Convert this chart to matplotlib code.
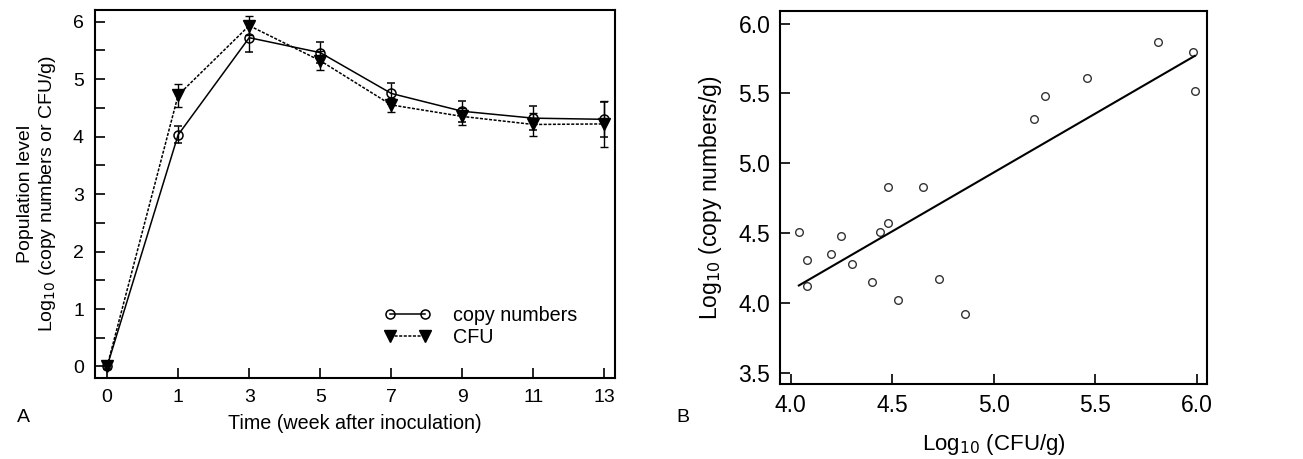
import numpy as np
import matplotlib.pyplot as plt

plt.rcParams["font.family"] = ["Liberation Sans", "DejaVu Sans"]

# panel A: population over time
weeks = ["0", "1", "3", "5", "7", "9", "11", "13"]
copy_mean = [0.0, 4.03, 5.72, 5.46, 4.75, 4.44, 4.32, 4.30]
copy_err = [0.05, 0.15, 0.25, 0.18, 0.19, 0.18, 0.21, 0.30]
cfu_mean = [0.0, 4.72, 5.93, 5.32, 4.55, 4.35, 4.21, 4.22]
cfu_err = [0.05, 0.20, 0.17, 0.17, 0.12, 0.15, 0.20, 0.40]

# panel B: correlation
cfu_log = [4.04, 4.08, 4.08, 4.20, 4.25, 4.30, 4.40, 4.44, 4.48, 4.48,
           4.53, 4.65, 4.73, 4.86, 5.20, 5.25, 5.46, 5.81, 5.98, 5.99]
copy_log = [4.51, 4.31, 4.12, 4.35, 4.48, 4.28, 4.15, 4.51, 4.57, 4.83,
            4.02, 4.83, 4.17, 3.92, 5.32, 5.48, 5.61, 5.87, 5.80, 5.52]

fig = plt.figure(figsize=(13.03, 4.59), dpi=100)

ax1 = fig.add_axes([0.0729, 0.1765, 0.3992, 0.8015])
xpos = np.arange(len(weeks))
ax1.errorbar(xpos, copy_mean, yerr=copy_err, color="black", lw=1.1,
             marker="o", ms=6.5, mfc="none", mec="black", mew=1.1,
             capsize=3, elinewidth=1, label="copy numbers", zorder=3)
ax1.errorbar(xpos, cfu_mean, yerr=cfu_err, color="black", lw=1.1, ls=(0, (2, 1)),
             marker="v", ms=9, mfc="black", mec="black",
             capsize=3, elinewidth=1, label="CFU", zorder=2)
ax1.set_xlim(-0.17, 7.15)
ax1.set_ylim(-0.2, 6.2)
ax1.set_xticks(xpos)
ax1.set_xticklabels(weeks)
ax1.set_yticks(range(7))
ax1.set_yticks(np.arange(0.5, 6, 1), minor=True)
ax1.tick_params(direction="in", length=7, width=1.2, labelsize=14, pad=8)
ax1.tick_params(which="minor", direction="in", length=7, width=1.2)
for s in ax1.spines.values():
    s.set_linewidth(1.5)
ax1.set_xlabel("Time (week after inoculation)", fontsize=14.2, labelpad=6)
ax1.set_ylabel("Population level\nLog$_{10}$ (copy numbers or CFU/g)", fontsize=14,
               labelpad=11, linespacing=1.15)
h, l = ax1.get_legend_handles_labels()
h = [x[0] for x in h]
ax1.legend(h, l, loc="center left", bbox_to_anchor=(0.555, 0.141), frameon=False,
           numpoints=2, handlelength=2.4, fontsize=14.2, handletextpad=1.1,
           labelspacing=0.15, borderaxespad=0, borderpad=0)
fig.text(0.013, 0.08, "A", fontsize=14)

ax2 = fig.add_axes([0.5986, 0.1634, 0.3277, 0.8126])
ax2.plot(cfu_log, copy_log, "o", ms=5.5, mfc="none", mec="#333333", mew=1)
k, b = np.polyfit(cfu_log, copy_log, 1)
xl = np.array([min(cfu_log), max(cfu_log)])
ax2.plot(xl, k * xl + b, color="black", lw=1.5)
ax2.set_xlim(3.947, 6.05)
ax2.set_ylim(3.42, 6.09)
ax2.set_xticks([4.0, 4.5, 5.0, 5.5, 6.0])
ax2.set_yticks([3.5, 4.0, 4.5, 5.0, 5.5, 6.0])
ax2.tick_params(direction="in", length=7, width=1.2, labelsize=16.5, pad=7)
for s in ax2.spines.values():
    s.set_linewidth(1.5)
ax2.set_xlabel("Log$_{10}$ (CFU/g)", fontsize=16, labelpad=11)
ax2.set_ylabel("Log$_{10}$ (copy numbers/g)", fontsize=16.5, labelpad=10)
fig.text(0.519, 0.08, "B", fontsize=14)

fig.savefig("out.png", dpi=100)
